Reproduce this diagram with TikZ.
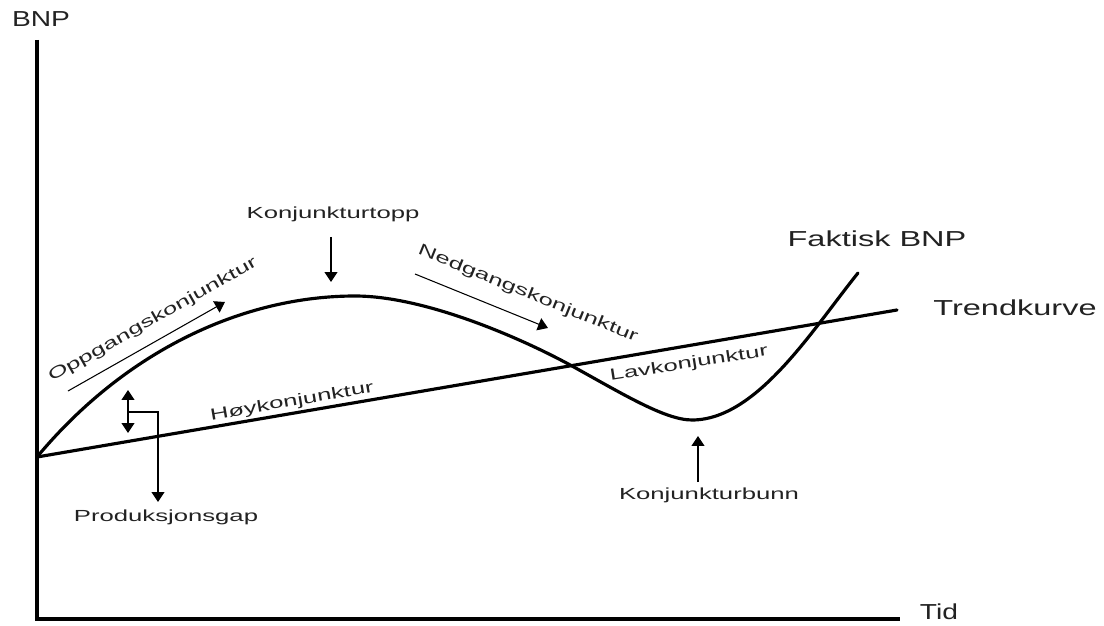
\documentclass[tikz,border=0pt]{standalone}
\usepackage{fontspec}
\setmainfont{Liberation Sans}
\newfontfamily\lblfont[FakeStretch=1.6]{Liberation Sans}
\newfontfamily\bigfont[FakeStretch=1.5]{Liberation Sans}
\newfontfamily\axfont[FakeStretch=1.3]{Liberation Sans}
\usetikzlibrary{arrows.meta}
\definecolor{txt}{RGB}{34,34,34}
\begin{document}
\begin{tikzpicture}[x=0.03cm,y=-0.03cm,
  axis/.style={line width=3.4pt, line join=miter},
  curve/.style={line width=2.7pt, line join=round, line cap=round},
  thinarrow/.style={line width=0.9pt, -{Triangle[width=11pt,length=8.5pt]}},
  lbl/.style={font=\lblfont\fontsize{13.7}{16}\selectfont, text=txt, inner sep=0pt},
  big/.style={font=\bigfont\fontsize{18.5}{22}\selectfont, text=txt, inner sep=0pt},
  ax/.style={font=\axfont\fontsize{18.5}{22}\selectfont, text=txt, inner sep=0pt}]
\useasboundingbox (0,0) rectangle (1104,626);

% axes
\coordinate (ytop) at (37,40);
\coordinate (orig) at (37,619);
\coordinate (xend) at (900,619);
\draw[axis] (ytop) -- (orig) -- (xend);
\node[ax] (bnp) at (41,19) {BNP};
\node[ax] (tid) at (939,612) {Tid};

% trend line
\coordinate (t0) at (37,457);
\coordinate (t1) at (897,310);
\draw[curve] (t0) -- (t1);

% actual GDP curve
\coordinate (peak) at (355,296);
\coordinate (mid) at (572,366);
\coordinate (trough) at (692,420);
\coordinate (fend) at (858,273);
\draw[curve] (t0) .. controls (127,349) and (245,296) .. (peak)
  .. controls (425,296) and (522,338.5) .. (mid)
  .. controls (622,393.5) and (665,420) .. (trough)
  .. controls (757,420) and (813,328.8) .. (fend);

% labels
\node[big] (faktisk) at (877,239) {Faktisk BNP};
\node[big] (trend) at (1015,308) {Trendkurve};
\node[lbl] (topp) at (333,214) {Konjunkturtopp};
\node[lbl] (bunn) at (709,495) {Konjunkturbunn};
\node[lbl] (gap) at (166,517) {Produksjonsgap};
\node[lbl, rotate=29.5] (opp) at (153,320) {Oppgangskonjunktur};
\node[lbl, rotate=-22] (ned) at (528,294) {Nedgangskonjunktur};
\node[lbl, rotate=9] (lav) at (689,364) {Lavkonjunktur};
\node[lbl, rotate=9.8] (hoy) at (292,402) {Høykonjunktur};

% arrows
\coordinate (oa) at (68,391); \coordinate (ob) at (225,302);
\draw[thinarrow] (oa) -- (ob);
\coordinate (na) at (415,274); \coordinate (nb) at (548,328);
\draw[thinarrow] (na) -- (nb);
\coordinate (ka) at (331,237); \coordinate (kb) at (331,282);
\draw[thinarrow] (ka) -- (kb);
\coordinate (ba) at (698,482); \coordinate (bb) at (698,436);
\draw[thinarrow] (ba) -- (bb);
\coordinate (ga) at (128,390); \coordinate (gb) at (128,433);
\draw[line width=0.9pt, {Triangle[width=11pt,length=8.5pt]}-{Triangle[width=11pt,length=8.5pt]}] (ga) -- (gb);
\coordinate (gm) at (128,412); \coordinate (gc) at (158,412); \coordinate (gd) at (158,502);
\draw[thinarrow] (gm) -- (gc) -- (gd);
\end{tikzpicture}
\end{document}
